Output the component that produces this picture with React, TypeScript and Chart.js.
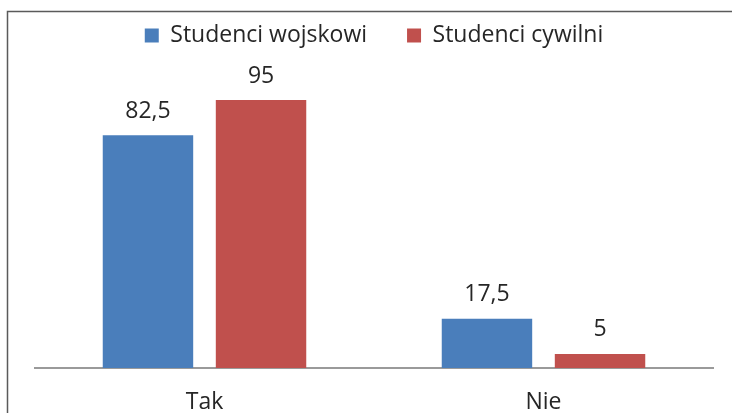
import React, { useEffect, useRef } from "react";
import { Chart, registerables } from "chart.js";

Chart.register(...registerables);

const categories = ["Tak", "Nie"];
const seriesNames = ["Studenci wojskowi", "Studenci cywilni"];
const wojskowi = [82.5, 17.5];
const cywilni = [95, 5];
const colors = ["#4a7ebb", "#c0504d"];

const FONT = "'Open Sans', 'Liberation Sans', sans-serif";
const TEXT = "#262626";
const LAYOUT_TOP = -16;
const PLOT_TOP = 86;

const fmt = (v: number) => String(v).replace(".", ",");

const labelsPlugin = {
  id: "valueLabels",
  afterDatasetsDraw(chart: any) {
    const ctx = chart.ctx;
    ctx.save();
    ctx.font = `23px ${FONT}`;
    ctx.fillStyle = TEXT;
    ctx.textAlign = "center";
    ctx.textBaseline = "middle";
    chart.data.datasets.forEach((ds: any, i: number) => {
      const meta = chart.getDatasetMeta(i);
      meta.data.forEach((bar: any, j: number) => {
        ctx.fillText(fmt(ds.data[j]), bar.x, bar.y - 24);
      });
    });
    ctx.restore();
  },
};

const borderPlugin = {
  id: "outerBorder",
  afterDraw(chart: any) {
    const ctx = chart.ctx;
    ctx.save();
    ctx.strokeStyle = "#5a5a5a";
    ctx.lineWidth = 1.5;
    ctx.strokeRect(7.5, 11.5, 900, 600);
    ctx.restore();
  },
};

const legendSpacer = {
  id: "legendSpacer",
  beforeInit(chart: any) {
    const orig = chart.legend.fit;
    chart.legend.fit = function () {
      orig.call(this);
      this.height = PLOT_TOP - LAYOUT_TOP;
    };
  },
};

export default function App() {
  const ref = useRef<HTMLCanvasElement>(null);
  useEffect(() => {
    if (!ref.current) return;
    const chart = new Chart(ref.current, {
      type: "bar",
      data: {
        labels: categories,
        datasets: [
          { label: seriesNames[0], data: wojskowi, backgroundColor: colors[0], barPercentage: 0.8, categoryPercentage: 0.667 },
          { label: seriesNames[1], data: cywilni, backgroundColor: colors[1], barPercentage: 0.8, categoryPercentage: 0.667 },
        ],
      },
      options: {
        animation: false,
        responsive: false,
        layout: { padding: { left: 35, right: 19, top: LAYOUT_TOP, bottom: 0 } },
        plugins: {
          legend: {
            position: "top",
            labels: {
              font: { family: FONT, size: 23 },
              color: TEXT,
              boxWidth: 14,
              boxHeight: 14,
              padding: 40,
            },
          },
          tooltip: { enabled: false },
        },
        scales: {
          y: { display: false, min: 0, max: 100 },
          x: {
            grid: { display: false },
            border: { display: true, color: "#9a9a9a", width: 2 },
            ticks: { font: { family: FONT, size: 23 }, color: TEXT, padding: 13 },
            afterFit(scale: any) {
              scale.height = 45;
            },
          },
        },
      },
      plugins: [labelsPlugin, borderPlugin, legendSpacer],
    });
    return () => chart.destroy();
  }, []);
  return (
    <div style={{ position: "fixed", left: 0, top: 0, width: 732, height: 413, background: "#fff" }}>
      <canvas ref={ref} width={732} height={413} style={{ width: 732, height: 413 }} />
    </div>
  );
}
